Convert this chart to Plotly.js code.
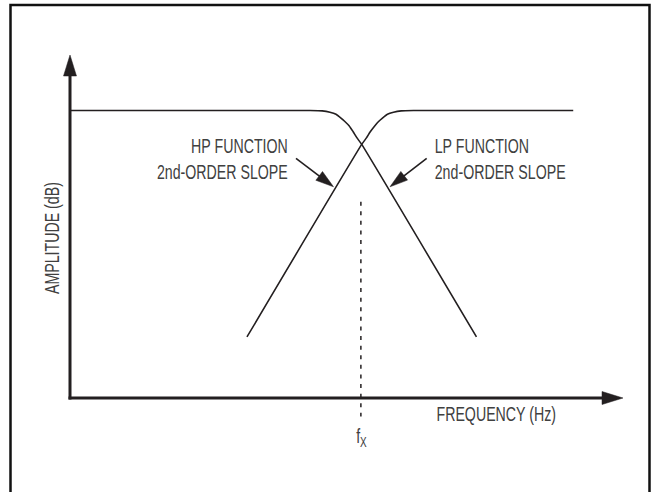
<!DOCTYPE html>
<html>
<head>
<meta charset="utf-8">
<script src="https://cdn.plot.ly/plotly-3.0.1.min.js"></script>
<style>
  html, body { margin: 0; padding: 0; background: #ffffff; }
  #chart { width: 651px; height: 492px; }
  /* condensed look of the original lettering */
  #chart text.annotation-text {
    transform-box: fill-box;
    transform-origin: center;
    transform: scaleX(0.71);
  }
</style>
</head>
<body>
<div id="chart"></div>
<script>
// ---- Data (normalized log-frequency on x, normalized amplitude on y) ----
const lpFreq = [0, 43.4, 45.6, 47.0, 48.1, 49.0, 49.7, 50.5, 51.2, 51.9, 52.75, 73.5];
const lpAmp  = [83.8, 83.8, 83.7, 83.3, 82.7, 81.6, 80.6, 79.3, 77.6, 75.8, 73.9, 17.7];
const hpFreq = [32.0, 52.75, 53.6, 54.3, 55.1, 55.8, 56.5, 57.4, 58.5, 59.9, 62.1, 91.0];
const hpAmp  = [17.7, 73.9, 75.8, 77.6, 79.3, 80.6, 81.6, 82.7, 83.3, 83.7, 83.8, 83.8];
const crossoverFreq = [52.6, 52.6];
const crossoverAmp  = [57.2, -5.5];

const hpLabel = "HP FUNCTION<br>2nd-ORDER SLOPE";
const lpLabel = "LP FUNCTION<br>2nd-ORDER SLOPE";
const xLabel = "FREQUENCY (Hz)";
const yLabel = "AMPLITUDE (dB)";
const fxLabel = "f<sub>X</sub>";

// ---- Layout geometry ----
const W = 651, H = 492;
const M = { l: 70, r: 28, t: 55, b: 67 };
const PW = W - M.l - M.r, PH = H - M.t - M.b;
const P = px => (px - M.l) / PW;           // pixel -> paper x
const Q = py => (H - M.b - py) / PH;       // pixel -> paper y

const INK = "#231f20";
const TXT = "#404040";
const FONT = '"Liberation Sans", Arial, sans-serif';

function tri(tx, ty, fx, fy, len, hw) {
  const dx = tx - fx, dy = ty - fy, L = Math.hypot(dx, dy);
  const ux = dx / L, uy = dy / L, nx = -uy, ny = ux;
  const bx = tx - ux * len, by = ty - uy * len;
  return {
    type: "path", xref: "paper", yref: "paper", layer: "above",
    path: `M${P(tx)},${Q(ty)} L${P(bx + nx * hw)},${Q(by + ny * hw)} L${P(bx - nx * hw)},${Q(by - ny * hw)} Z`,
    fillcolor: INK, line: { color: INK, width: 0.5 }
  };
}
function seg(x0, y0, x1, y1, w) {
  return { type: "line", xref: "paper", yref: "paper", layer: "above",
    x0: P(x0), y0: Q(y0), x1: P(x1), y1: Q(y1), line: { color: INK, width: w } };
}
function pointer(fx, fy, tx, ty) {
  const dx = tx - fx, dy = ty - fy, L = Math.hypot(dx, dy);
  const bx = tx - dx / L * 14, by = ty - dy / L * 14;
  return [seg(fx, fy, bx, by, 1.6), tri(tx, ty, fx, fy, 18, 5.5)];
}

const shapes = [
  { type: "rect", xref: "paper", yref: "paper", x0: P(10.5), y0: Q(5), x1: P(649.5), y1: Q(505),
    line: { color: "#111", width: 2.5 }, layer: "above" },
  seg(70, 399.5, 70, 72, 3),
  tri(70, 55, 70, 100, 21, 6.5),
  seg(68.5, 398, 606, 398, 3),
  tri(623, 398, 500, 398, 21, 6.5),
  ...pointer(296, 158.3, 333.5, 186.8),
  ...pointer(426.7, 158.3, 390, 186.8)
];

const traces = [
  { x: lpFreq, y: lpAmp, mode: "lines", line: { color: INK, width: 1.6, shape: "spline", smoothing: 0.5 }, hoverinfo: "skip" },
  { x: hpFreq, y: hpAmp, mode: "lines", line: { color: INK, width: 1.6, shape: "spline", smoothing: 0.5 }, hoverinfo: "skip" },
  { x: crossoverFreq, y: crossoverAmp, mode: "lines", line: { color: INK, width: 1.5, dash: "4px,5.6px" }, hoverinfo: "skip" }
];

const f = { family: FONT, size: 20, color: TXT };
const annotations = [
  { text: hpLabel, xref: "paper", yref: "paper", x: P(222), y: Q(158.5), xanchor: "center", yanchor: "middle", align: "right", showarrow: false, font: f },
  { text: lpLabel, xref: "paper", yref: "paper", x: P(500), y: Q(158.5), xanchor: "center", yanchor: "middle", align: "left", showarrow: false, font: f },
  { text: xLabel, xref: "paper", yref: "paper", x: P(496.5), y: Q(414), xanchor: "center", yanchor: "middle", showarrow: false, font: f },
  { text: yLabel, xref: "paper", yref: "paper", x: P(52), y: Q(238), xanchor: "center", yanchor: "middle", textangle: -90, showarrow: false, font: f },
  { text: fxLabel, xref: "paper", yref: "paper", x: P(362), y: Q(437), xanchor: "center", yanchor: "middle", showarrow: false, font: f }
];

const layout = {
  width: W, height: H,
  margin: M,
  paper_bgcolor: "#ffffff", plot_bgcolor: "#ffffff",
  showlegend: false,
  xaxis: { range: [0, 100], visible: false, fixedrange: true },
  yaxis: { range: [-8, 100], visible: false, fixedrange: true },
  shapes: shapes,
  annotations: annotations
};

Plotly.newPlot("chart", traces, layout, { displayModeBar: false, staticPlot: true });
</script>
</body>
</html>
